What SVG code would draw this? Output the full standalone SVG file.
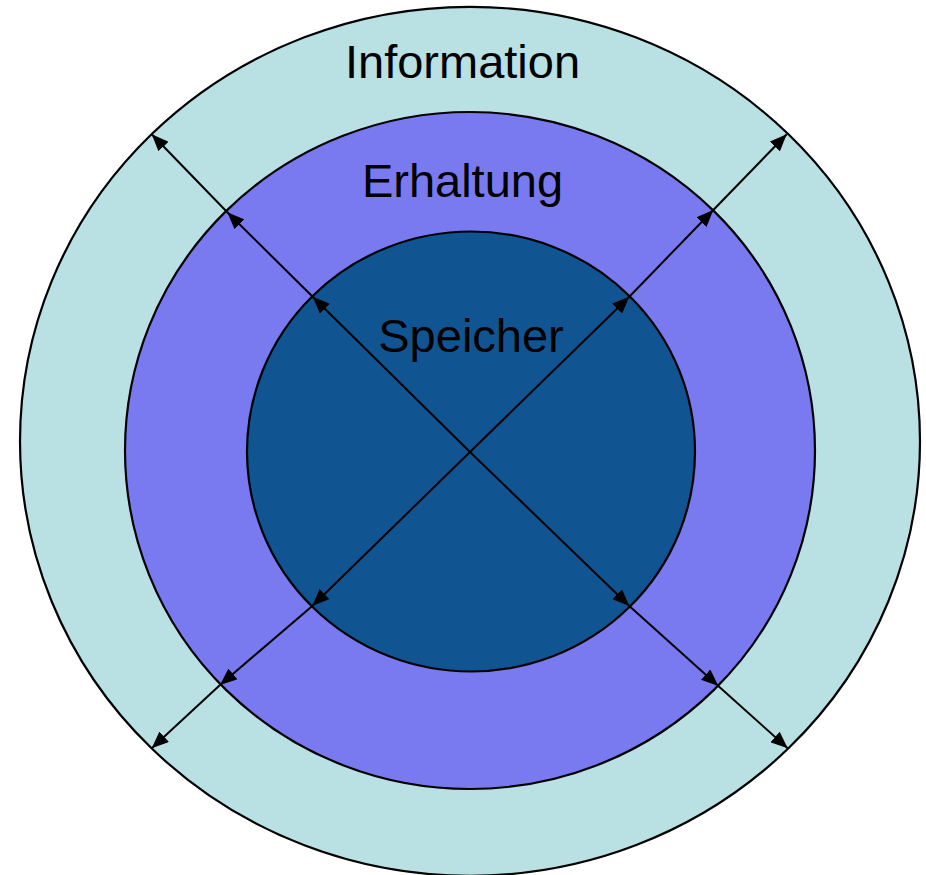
<svg xmlns="http://www.w3.org/2000/svg" width="926" height="875" viewBox="0 0 926 875">
<style>
.ring{stroke:#000;stroke-width:2.2}
.lbl{font-family:"Liberation Sans",Arial,sans-serif;font-size:47px;fill:#000;text-anchor:middle}
.arr{stroke:#000;stroke-width:2;fill:none;marker-end:url(#ah)}
</style>
<defs>
<marker id="ah" markerUnits="userSpaceOnUse" markerWidth="18" markerHeight="14" refX="17" refY="7" orient="auto">
<path d="M0,0 L17,7 L0,14 Z" fill="#000"/>
</marker>
</defs>
<rect width="926" height="875" fill="#fff"/>
<g id="information">
<ellipse class="ring" cx="470" cy="441.3" rx="450" ry="434.5" fill="#B9E0E3"/>
<text class="lbl" x="462.5" y="78">Information</text>
</g>
<g id="erhaltung">
<ellipse class="ring" cx="470" cy="450.5" rx="345" ry="338.5" fill="#7A7AF0"/>
<text class="lbl" x="462.5" y="197">Erhaltung</text>
</g>
<g id="speicher">
<ellipse class="ring" cx="471" cy="451.5" rx="224" ry="220" fill="#105591"/>
<text class="lbl" x="471" y="352">Speicher</text>
</g>
<g id="connectors">
<line class="arr" x1="470" y1="452" x2="312.7" y2="296.7"/>
<line class="arr" x1="312.7" y1="296.7" x2="227.3" y2="212.3"/>
<line class="arr" x1="227.3" y1="212.3" x2="151.7" y2="134.3"/>
<line class="arr" x1="470" y1="452" x2="629.3" y2="296.7"/>
<line class="arr" x1="629.3" y1="296.7" x2="713.3" y2="210"/>
<line class="arr" x1="713.3" y1="210" x2="786.7" y2="134.3"/>
<line class="arr" x1="470" y1="452" x2="312.3" y2="606"/>
<line class="arr" x1="312.3" y1="606" x2="220" y2="685"/>
<line class="arr" x1="220" y1="685" x2="151.7" y2="748.3"/>
<line class="arr" x1="470" y1="452" x2="629.3" y2="606"/>
<line class="arr" x1="629.3" y1="606" x2="718.3" y2="686"/>
<line class="arr" x1="718.3" y1="686" x2="787.7" y2="748.3"/>
</g>
</svg>
